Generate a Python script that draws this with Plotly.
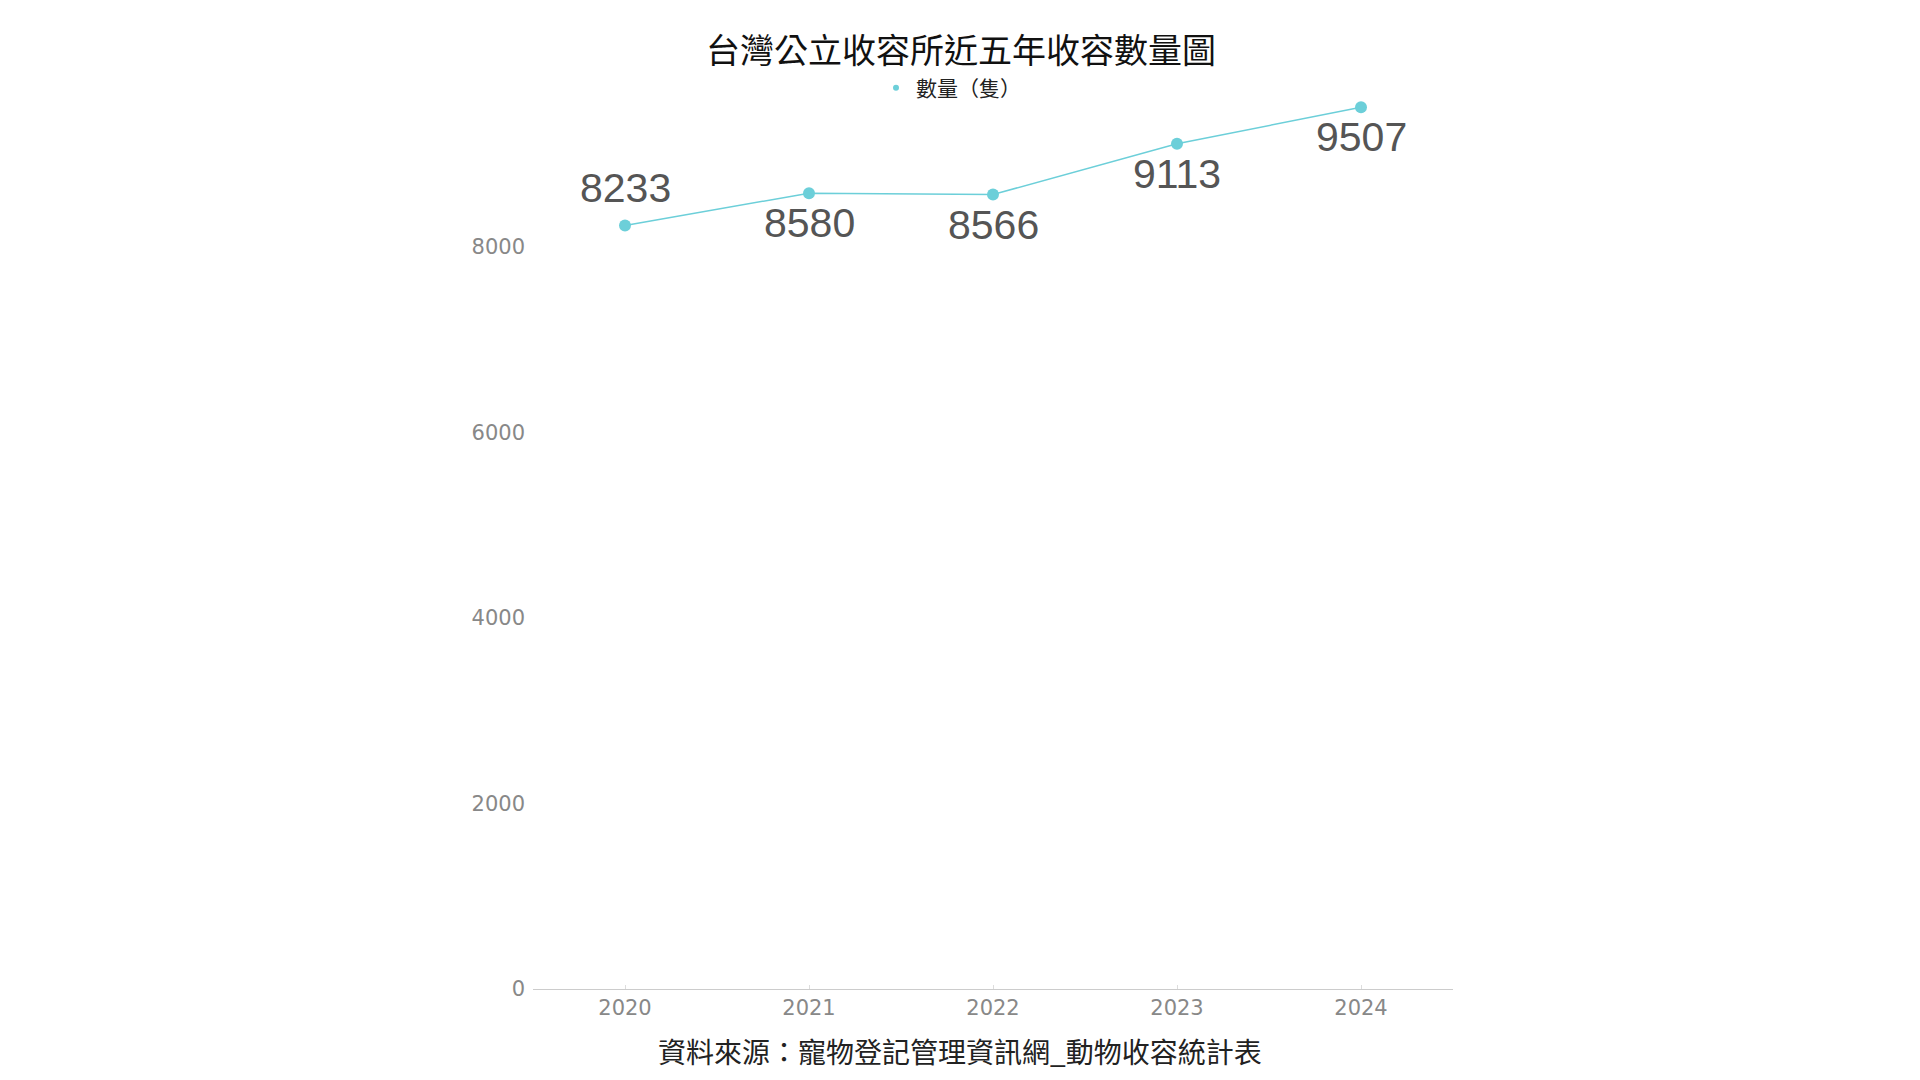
import plotly.graph_objects as go

# data
years = ['2020', '2021', '2022', '2023', '2024']
counts = [8233, 8580, 8566, 9113, 9507]
label_above = [True, False, False, False, False]
y_ticks = [0, 2000, 4000, 6000, 8000]

line_color = '#6ccfd9'
cjk_font = 'Noto Sans CJK TC'

fig = go.Figure()

fig.add_trace(
    go.Scatter(
        x=years, y=counts, mode='lines+markers',
        line=dict(color=line_color, width=1.5),
        marker=dict(color=line_color, size=12),
        showlegend=False,
    ))

# legend entry shows only a small dot
fig.add_trace(
    go.Scatter(
        x=[None], y=[None], mode='markers', name='數量（隻）',
        marker=dict(color=line_color, size=6),
    ))

# value labels, above or below each point
# (category axis: annotation x is the category index, '2020' would read as a number)
for i, (count, above) in enumerate(zip(counts, label_above)):
    fig.add_annotation(
        x=i, y=count, xref='x', yref='y',
        text=str(count), showarrow=False,
        yshift=37 if above else -30,
        font=dict(family='Liberation Sans, Arial', size=41, color='#555555'),
    )

fig.update_xaxes(
    type='category', range=[-0.5, 4.5],
    showline=True, linecolor='#cccccc', linewidth=1,
    showgrid=False, zeroline=False,
    ticks='inside', ticklen=4, tickcolor='#dddddd',
    tickfont=dict(family='DejaVu Sans', size=21, color='#888888'),
)
fig.update_yaxes(
    range=[0, 9650], tickvals=y_ticks,
    showline=False, showgrid=False, zeroline=False,
    ticklabelstandoff=7,
    tickfont=dict(family='DejaVu Sans', size=21, color='#888888'),
)

# page body has an 8px margin, so positions are shifted by -8
fig.update_layout(
    width=1920, height=1080,
    margin=dict(l=525, r=475, t=86, b=99, autoexpand=False),
    plot_bgcolor='white', paper_bgcolor='white',
    title=dict(
        text='台灣公立收容所近五年收容數量圖',
        x=953 / 1920, xref='container', xanchor='center',
        y=1 - 43 / 1080, yref='container', yanchor='middle',
        font=dict(family=cjk_font, size=34, color='#111111'),
    ),
    legend=dict(
        orientation='h',
        x=943 / 1920, xref='container', xanchor='center',
        y=1 - 80 / 1080, yref='container', yanchor='middle',
        font=dict(family=cjk_font, size=21, color='#222222'),
        itemwidth=30, bgcolor='rgba(0,0,0,0)',
    ),
)
fig.add_annotation(
    text='資料來源：寵物登記管理資訊網_動物收容統計表',
    xref='paper', yref='paper',
    x=(952 - 525) / 920, y=-(1043 - 981) / 895,
    xanchor='center', yanchor='middle', showarrow=False,
    font=dict(family=cjk_font, size=28, color='#222222'),
)

fig.write_html('out.html')
